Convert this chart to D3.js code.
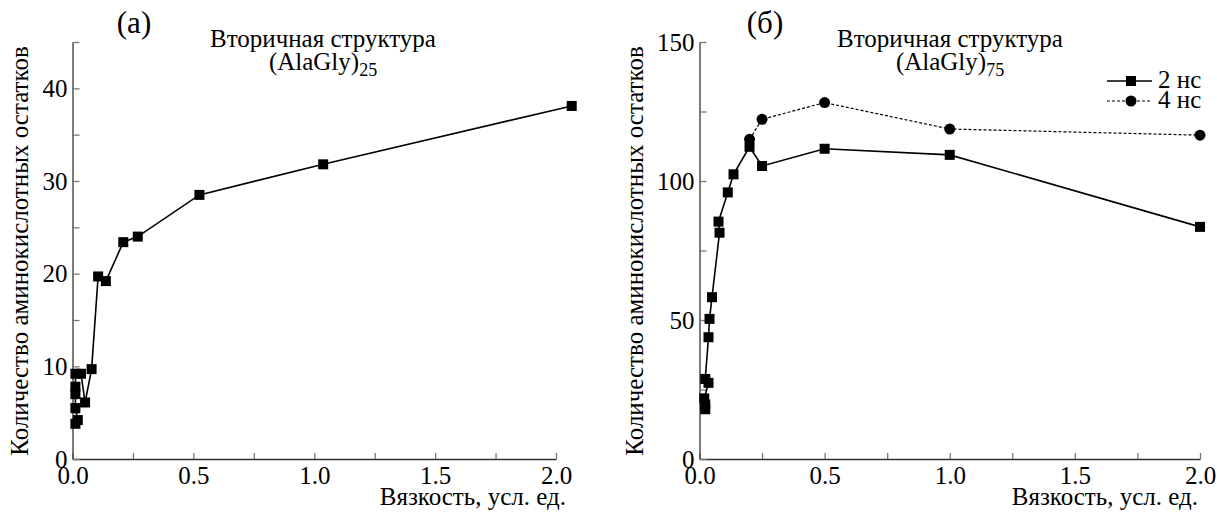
<!DOCTYPE html>
<html><head><meta charset="utf-8">
<script src="https://cdn.jsdelivr.net/npm/d3@7/dist/d3.min.js"></script>
<style>
svg text, svg tspan { font-family: "Times New Roman", "Liberation Serif", Tinos, serif !important; }
</style>
</head>
<body style="margin:0"><svg id="c" width="1217" height="515"></svg>
<script>
// ---- data ----
const xTicks = [0, 0.25, 0.5, 0.75, 1.0, 1.25, 1.5, 1.75, 2.0];
const xLabels = ["0.0", "", "0.5", "", "1.0", "", "1.5", "", "2.0"];
const leftYTicks = [0, 5, 10, 15, 20, 25, 30, 35, 40, 45];
const leftYLabels = ["0", "", "10", "", "20", "", "30", "", "40", ""];
const rightYTicks = [0, 25, 50, 75, 100, 125, 150];
const rightYLabels = ["0", "", "50", "", "100", "", "150"];

// (a) (AlaGly)25
const leftX = [0.012, 0.022, 0.012, 0.012, 0.012, 0.012, 0.035, 0.052, 0.079, 0.106, 0.138, 0.21, 0.27, 0.525, 1.037, 2.065];
const leftY = [3.8, 4.2, 5.5, 7.0, 7.8, 9.2, 9.2, 6.1, 9.7, 19.7, 19.2, 23.4, 24.0, 28.5, 31.8, 38.1];

// (б) (AlaGly)75
const series2nsX = [0.023, 0.023, 0.019, 0.036, 0.023, 0.036, 0.04, 0.05, 0.08, 0.076, 0.113, 0.136, 0.2, 0.25, 0.5, 1.0, 2.0];
const series2nsY = [17.9, 19.6, 21.8, 27.4, 28.8, 43.8, 50.4, 58.2, 81.4, 85.4, 95.9, 102.4, 112.3, 105.4, 111.6, 109.4, 83.5];
const series4nsX = [0.2, 0.25, 0.5, 1.0, 2.0];
const series4nsY = [115.0, 122.2, 128.2, 118.7, 116.5];

const legendLabels = ["2 нс", "4 нс"];
const yTitle = "Количество аминокислотных остатков";
const xTitle = "Вязкость, усл. ед.";
const titleLine1 = "Вторичная структура";

// ---- drawing ----
const svg = d3.select("#c");
const FS = 25;

function txt(sel, size) {
  return sel.style("font-size", size + "px");
}

function panel(cfg) {
  const x = d3.scaleLinear().domain([0, 2]).range(cfg.xr);
  const y = d3.scaleLinear().domain(cfg.yd).range([459, 42]);
  const g = svg.append("g");

  const xa = d3.axisBottom(x).tickValues(xTicks)
    .tickFormat((d, i) => xLabels[i]).tickSize(-6).tickSizeOuter(0).tickPadding(7);
  const gx = g.append("g").attr("transform", `translate(0,${y(0)})`).call(xa);
  const ya = d3.axisLeft(y).tickValues(cfg.yTicks)
    .tickFormat((d, i) => cfg.yLabels[i]).tickSize(-7).tickSizeOuter(0).tickPadding(5);
  const gy = g.append("g").attr("transform", `translate(${x(0)},0)`).call(ya);
  [gx, gy].forEach(a => {
    a.attr("font-family", null).attr("font-size", null);
    txt(a.selectAll("text"), FS).attr("fill", "#000");
    a.select(".domain").attr("stroke", "#333").attr("stroke-width", 1.3);
    a.selectAll(".tick line").attr("stroke", "#777").attr("stroke-width", 1.3);
  });

  // axis titles
  txt(g.append("text"), FS).attr("x", cfg.xTitleX).attr("y", 505).attr("text-anchor", "end").text(xTitle);
  txt(g.append("text"), FS).attr("transform", `translate(${cfg.yTitleX},251) rotate(-90)`)
    .attr("text-anchor", "middle").text(yTitle);

  // titles
  txt(g.append("text"), 31).attr("x", cfg.tagX).attr("y", 33).attr("text-anchor", "middle").text(cfg.tag);
  txt(g.append("text"), FS).attr("x", cfg.titleX).attr("y", 47).attr("text-anchor", "middle").text(titleLine1);
  const t2 = txt(g.append("text"), FS).attr("x", cfg.titleX).attr("y", 70).attr("text-anchor", "middle");
  t2.append("tspan").text("(AlaGly)");
  t2.append("tspan").attr("dy", 6).style("font-size", "18px").text(cfg.sub);

  return {x, y, g};
}

const L = panel({xr: [72.5, 556], yd: [0, 45], yTicks: leftYTicks, yLabels: leftYLabels,
  xTitleX: 566, yTitleX: 28, tag: "(a)", tagX: 134, titleX: 323, sub: "25"});
const R = panel({xr: [699.5, 1200], yd: [0, 150], yTicks: rightYTicks, yLabels: rightYLabels,
  xTitleX: 1198, yTitleX: 643, tag: "(б)", tagX: 765, titleX: 950, sub: "75"});

function drawSeries(P, xs, ys, dashed, marker) {
  const pts = xs.map((v, i) => [v, ys[i]]);
  const line = d3.line().x(d => P.x(d[0])).y(d => P.y(d[1]));
  P.g.append("path").datum(pts).attr("d", line).attr("fill", "none")
    .attr("stroke", "#000").attr("stroke-width", dashed ? 1.2 : 1.6)
    .attr("stroke-dasharray", dashed ? "3,2" : null);
  if (marker === "sq") {
    P.g.selectAll(null).data(pts).enter().append("rect")
      .attr("x", d => P.x(d[0]) - 5).attr("y", d => P.y(d[1]) - 5)
      .attr("width", 10).attr("height", 10).attr("fill", "#000");
  } else {
    P.g.selectAll(null).data(pts).enter().append("circle")
      .attr("cx", d => P.x(d[0])).attr("cy", d => P.y(d[1])).attr("r", 5.5).attr("fill", "#000");
  }
}

drawSeries(L, leftX, leftY, false, "sq");
drawSeries(R, series4nsX, series4nsY, true, "ci");
drawSeries(R, series2nsX, series2nsY, false, "sq");

// legend
const lg = svg.append("g");
[[81, false, "sq"], [101, true, "ci"]].forEach((r, i) => {
  lg.append("line").attr("x1", 1107).attr("x2", 1152).attr("y1", r[0]).attr("y2", r[0])
    .attr("stroke", "#000").attr("stroke-width", r[1] ? 1.2 : 1.6)
    .attr("stroke-dasharray", r[1] ? "3,2" : null);
  if (r[2] === "sq") lg.append("rect").attr("x", 1126).attr("y", r[0] - 5).attr("width", 10).attr("height", 10);
  else lg.append("circle").attr("cx", 1131).attr("cy", r[0]).attr("r", 5.5);
  txt(lg.append("text"), FS).attr("x", 1158).attr("y", r[0] + 7).text(legendLabels[i]);
});
</script></body></html>
